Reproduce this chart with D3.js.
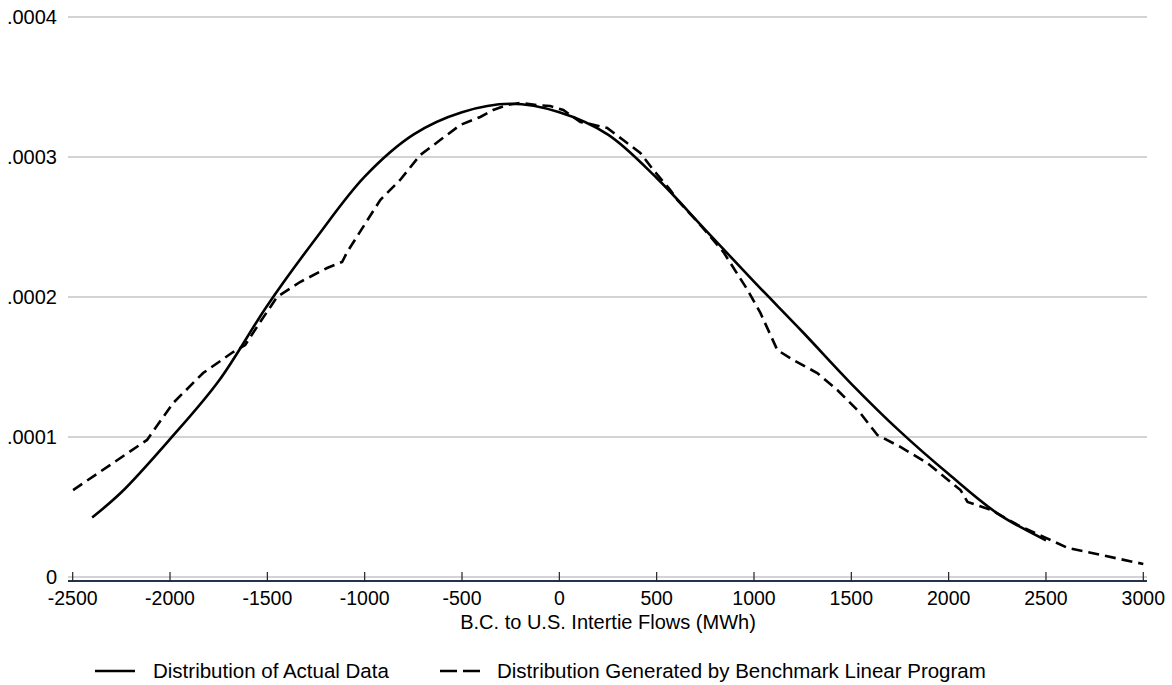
<!DOCTYPE html>
<html>
<head>
<meta charset="utf-8">
<script src="https://cdn.jsdelivr.net/npm/d3@7"></script>
<style>
  html, body { margin: 0; padding: 0; background: #fff; }
  svg { display: block; font-family: "Liberation Sans", Arial, sans-serif; }
</style>
</head>
<body>
<svg id="chart" width="1172" height="685"></svg>
<script>
// ---- data ----
const xTicks = [-2500, -2000, -1500, -1000, -500, 0, 500, 1000, 1500, 2000, 2500, 3000];
const yTicks = [0, 0.0001, 0.0002, 0.0003, 0.0004];
const yTickLabels = ["0", ".0001", ".0002", ".0003", ".0004"];
const xTitle = "B.C. to U.S. Intertie Flows (MWh)";
const seriesNames = ["Distribution of Actual Data", "Distribution Generated by Benchmark Linear Program"];

const actualX = [-2400, -2250, -2000, -1750, -1500, -1250, -1000, -750, -500, -250, 0, 250, 500, 750, 1000, 1250, 1500, 1750, 2000, 2250, 2500];
const actualY = [0.0000425, 0.0000605, 0.0000985, 0.000140, 0.000194, 0.000242, 0.000286, 0.000316, 0.000332, 0.000338, 0.000332, 0.000316, 0.000285, 0.000248, 0.000211, 0.000175, 0.000138, 0.000104, 0.0000735, 0.0000455, 0.0000262];

const lpX = [-2498, -2118, -1984, -1830, -1676, -1614, -1537, -1450, -1332, -1193, -1116, -1090, -920, -818, -715, -612, -509, -406, -340, -268, -201, -114, -47, 20, 108, 159, 246, 328, 416, 483, 570, 606, 725, 843, 967, 1033, 1120, 1202, 1325, 1428, 1546, 1634, 1752, 1891, 2061, 2097, 2218, 2356, 2500, 2613, 2783, 3000];
const lpY = [0.0000621, 0.0000979, 0.0001243, 0.0001457, 0.0001607, 0.0001657, 0.0001821, 0.0002, 0.0002107, 0.0002207, 0.000225, 0.0002321, 0.0002693, 0.0002836, 0.0003014, 0.0003121, 0.0003229, 0.0003286, 0.0003336, 0.0003371, 0.0003386, 0.0003371, 0.0003364, 0.0003336, 0.000325, 0.0003236, 0.0003207, 0.0003121, 0.0003029, 0.0002907, 0.0002764, 0.0002693, 0.0002514, 0.0002321, 0.000205, 0.0001886, 0.0001621, 0.000155, 0.0001457, 0.0001336, 0.0001171, 0.0001014, 0.0000929, 0.0000814, 0.0000621, 0.0000536, 0.0000479, 0.0000371, 0.0000279, 0.0000207, 0.0000157, 0.0000093];

// ---- layout ----
const svg = d3.select("#chart");
const x = d3.scaleLinear().domain([-2500, 3000]).range([72.7, 1143.3]);
const y = d3.scaleLinear().domain([0, 0.0004]).range([577, 17]);
const plotLeft = 68, plotRight = 1147, axisY = 581;

// gridlines
svg.append("g").selectAll("line").data(yTicks).join("line")
  .attr("x1", plotLeft).attr("x2", plotRight)
  .attr("y1", d => y(d)).attr("y2", d => y(d))
  .attr("stroke", "#c4c4c4").attr("stroke-width", 1.6);

// y labels
svg.append("g").selectAll("text").data(yTicks).join("text")
  .attr("x", 57).attr("y", d => y(d)).attr("dy", "0.35em")
  .attr("text-anchor", "end").attr("font-size", 20).attr("fill", "#000")
  .text((d, i) => yTickLabels[i]);

// x axis line
svg.append("line").attr("x1", plotLeft).attr("x2", plotRight)
  .attr("y1", axisY).attr("y2", axisY)
  .attr("stroke", "#24324f").attr("stroke-width", 1.8);

// x ticks
const xa = svg.append("g");
xa.selectAll("line").data(xTicks).join("line")
  .attr("x1", d => x(d)).attr("x2", d => x(d))
  .attr("y1", axisY).attr("y2", axisY - 9)
  .attr("stroke", "#222").attr("stroke-width", 1.2);
xa.selectAll("text").data(xTicks).join("text")
  .attr("x", d => x(d)).attr("y", 598).attr("dy", "0.35em")
  .attr("text-anchor", "middle").attr("font-size", 19.5).attr("fill", "#000")
  .text(d => String(d));

svg.append("text").attr("x", 608).attr("y", 622).attr("dy", "0.35em")
  .attr("text-anchor", "middle").attr("font-size", 20).attr("fill", "#000")
  .text(xTitle);

// lines
const actual = actualX.map((v, i) => [v, actualY[i]]);
const lp = lpX.map((v, i) => [v, lpY[i]]);
const lineSmooth = d3.line().x(d => x(d[0])).y(d => y(d[1])).curve(d3.curveCatmullRom.alpha(0.5));
const lineLin = d3.line().x(d => x(d[0])).y(d => y(d[1])).curve(d3.curveLinear);

svg.append("path").attr("d", lineLin(lp)).attr("fill", "none")
  .attr("stroke", "#000").attr("stroke-width", 2.6)
  .attr("stroke-dasharray", "11,6");
svg.append("path").attr("d", lineSmooth(actual)).attr("fill", "none")
  .attr("stroke", "#000").attr("stroke-width", 2.6);

// legend
const legY = 671;
svg.append("line").attr("x1", 95).attr("x2", 135).attr("y1", legY).attr("y2", legY)
  .attr("stroke", "#000").attr("stroke-width", 2.6);
svg.append("text").attr("x", 153).attr("y", legY).attr("dy", "0.35em")
  .attr("font-size", 20.5).attr("fill", "#000").text(seriesNames[0]);
svg.append("line").attr("x1", 440).attr("x2", 480).attr("y1", legY).attr("y2", legY)
  .attr("stroke", "#000").attr("stroke-width", 2.6).attr("stroke-dasharray", "17,6");
svg.append("text").attr("x", 497).attr("y", legY).attr("dy", "0.35em")
  .attr("font-size", 20.5).attr("fill", "#000").text(seriesNames[1]);
</script>
</body>
</html>
